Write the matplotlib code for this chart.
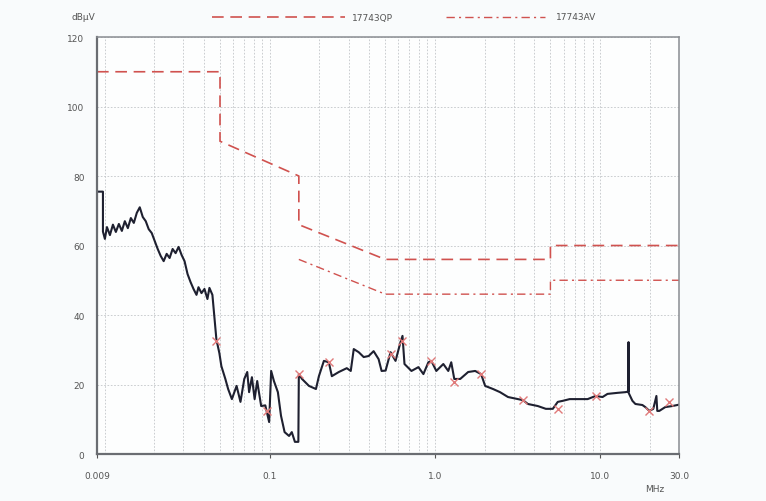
import matplotlib
matplotlib.use('Agg')
import matplotlib.pyplot as plt
from matplotlib.lines import Line2D
from matplotlib.ticker import FixedLocator, LogLocator, NullFormatter

freq = [0.009, 0.009, 0.00978, 0.00978, 0.01005, 0.01034, 0.01078, 0.01124, 0.01171,
        0.01221, 0.01273, 0.01327, 0.01384, 0.01443, 0.01504, 0.01568, 0.01634,
        0.01704, 0.01776, 0.01851, 0.01930, 0.02011, 0.02098, 0.02187, 0.02280,
        0.02377, 0.02477, 0.02583, 0.02693, 0.02807, 0.02926, 0.03050, 0.03180,
        0.03315, 0.03456, 0.03603, 0.03704, 0.03862, 0.04026, 0.04196, 0.04314,
        0.04497, 0.04754, 0.04957, 0.05095, 0.05386, 0.05600, 0.05900, 0.06300,
        0.06650, 0.07012, 0.07308, 0.07500, 0.07800, 0.08100, 0.08397, 0.08600,
        0.08876, 0.09400, 0.09917, 0.1020, 0.1060, 0.1120, 0.1170, 0.1230,
        0.1309, 0.1360, 0.1420, 0.149, 0.150, 0.1568, 0.1727, 0.1904, 0.1984,
        0.2127, 0.2279, 0.2376, 0.2619, 0.2926, 0.3093, 0.3225, 0.3455, 0.3704,
        0.3970, 0.4254, 0.4560, 0.4754, 0.5026, 0.5386, 0.5773, 0.6187, 0.6362,
        0.6540, 0.7207, 0.7943, 0.8513, 0.9125, 0.9512, 1.019, 1.124, 1.204,
        1.255, 1.309, 1.422, 1.589, 1.751, 1.903, 2.012, 2.248, 2.477, 2.768,
        3.180, 3.408, 3.652, 4.197, 4.690, 5.168, 5.538, 5.935, 6.540, 7.307,
        8.399, 9.382, 10.34, 11.08, 12.73, 14.22, 14.83, 14.85, 14.87, 15.68,
        16.34, 18.01, 18.77, 19.85, 20.97, 21.9, 22.17, 22.80, 24.77, 27.30, 30.0]
level = [64.0, 75.5, 75.5, 64.0, 61.9, 65.3, 63.0, 66.0, 63.9,
         66.2, 64.2, 67.0, 65.0, 67.9, 66.5, 69.4, 71.0,
         68.2, 67.0, 64.7, 63.6, 61.3, 59.0, 57.0, 55.5,
         57.6, 56.4, 59.0, 57.8, 59.6, 57.3, 55.5, 51.8,
         49.5, 47.5, 45.8, 48.0, 46.3, 47.5, 44.6, 47.8,
         45.8, 33.0, 29.0, 25.3, 21.6, 18.7, 15.8, 19.6,
         15.0, 21.6, 23.6, 17.8, 22.1, 15.8, 21.0, 17.8,
         13.8, 14.0, 9.2, 23.9, 21.0, 17.8, 11.0, 6.3,
         5.2, 6.3, 3.5, 3.5, 23.0, 21.6, 19.6, 18.7, 22.4,
         26.8, 26.4, 22.4, 23.6, 24.7, 23.9, 30.2, 29.3, 27.9,
         28.2, 29.6, 27.3, 23.9, 24.0, 29.3, 26.8, 32.2, 34.0,
         25.9, 23.9, 25.0, 23.0, 26.4, 26.8, 23.9, 25.9, 23.9,
         26.4, 21.6, 21.6, 23.6, 23.9, 23.0, 19.6, 18.7, 17.8, 16.4,
         15.8, 15.5, 14.4, 13.8, 13.0, 13.0, 15.0, 15.3, 15.8, 15.8,
         15.8, 16.7, 16.4, 17.3, 17.6, 17.8, 18.0, 32.2, 17.6, 15.3,
         14.4, 14.1, 13.5, 12.4, 13.0, 16.7, 12.4, 12.4, 13.5, 13.8, 14.2]

# peak markers
mark_freq = [0.0475, 0.0965, 0.150, 0.228, 0.539, 0.636, 0.951, 1.31, 1.90,
             3.41, 5.54, 9.38, 19.85, 26.2]
mark_level = [32.5, 12.4, 23.0, 26.4, 28.8, 32.5, 26.8, 20.6, 23.0,
              15.5, 13.0, 16.7, 12.4, 15.0]

# limit lines
qp_freq = [0.009, 0.05, 0.05, 0.15, 0.15, 0.5, 5.0, 5.0, 30.0]
qp_level = [110, 110, 90, 80, 66, 56, 56, 60, 60]
av_freq = [0.15, 0.5, 5.0, 5.0, 30.0]
av_level = [56, 46, 46, 50, 50]

fig = plt.figure(figsize=(7.66, 5.02), dpi=100)
fig.patch.set_facecolor('#f9fbfc')
ax = fig.add_axes([0.1266, 0.0936, 0.7598, 0.8307])
ax.set_facecolor('#fdfefe')

red = '#d0524f'
ax.plot(qp_freq, qp_level, color=red, lw=1.2, dashes=(7, 4))
ax.plot(av_freq, av_level, color=red, lw=1.0, dashes=(6, 3, 1.5, 3))
ax.plot(freq, level, color='#1e2030', lw=1.5)
ax.plot(mark_freq, mark_level, 'x', color='#e07a7a', ms=6, mew=1.0)

ax.set_xscale('log')
ax.set_xlim(0.009, 30)
ax.set_ylim(0, 120)
ax.xaxis.set_major_locator(FixedLocator([0.009, 0.1, 1.0, 10.0, 30.0]))
ax.set_xticklabels(['0.009', '0.1', '1.0', '10.0', '30.0'])
ax.xaxis.set_minor_locator(LogLocator(base=10, subs=range(1, 10), numticks=20))
ax.xaxis.set_minor_formatter(NullFormatter())
ax.set_yticks([0, 20, 40, 60, 80, 100, 120])
ax.tick_params(axis='both', which='both', labelsize=6.5, colors='#555555',
               labelcolor='#555555')
ax.tick_params(axis='x', which='major', length=3, pad=9)
ax.tick_params(axis='x', which='minor', length=0)
ax.tick_params(axis='y', length=0, pad=9)

ax.grid(True, which='both', axis='x', color='#c2c5c9', lw=0.6, ls=(0, (2, 2)))
ax.grid(True, which='major', axis='y', color='#c2c5c9', lw=0.6, ls=(0, (2, 2)))

for s in ['left', 'bottom']:
    ax.spines[s].set_color('#6a6d72')
    ax.spines[s].set_linewidth(1.6)
for s in ['top', 'right']:
    ax.spines[s].set_color('#8a8d92')
    ax.spines[s].set_linewidth(1.1)

fig.text(83 / 766, 1 - 18 / 502, 'dBµV', fontsize=6.5, color='#555555',
         ha='center', va='center')
fig.text(655 / 766, 1 - 490 / 502, 'MHz', fontsize=6.5, color='#555555',
         ha='center', va='center')

# legend at the top
ly = 1 - 18 / 502
fig.add_artist(Line2D([212 / 766, 345 / 766], [ly, ly], color=red, lw=1.2,
                      dashes=(7, 4), transform=fig.transFigure))
fig.text(352 / 766, ly, '17743QP', fontsize=6.5, color='#555555', va='center')
fig.add_artist(Line2D([446 / 766, 545 / 766], [ly, ly], color=red, lw=1.0,
                      dashes=(6, 3, 1.5, 3), transform=fig.transFigure))
fig.text(556 / 766, ly, '17743AV', fontsize=6.5, color='#555555', va='center')

fig.savefig('out.png', dpi=100, facecolor=fig.get_facecolor())
